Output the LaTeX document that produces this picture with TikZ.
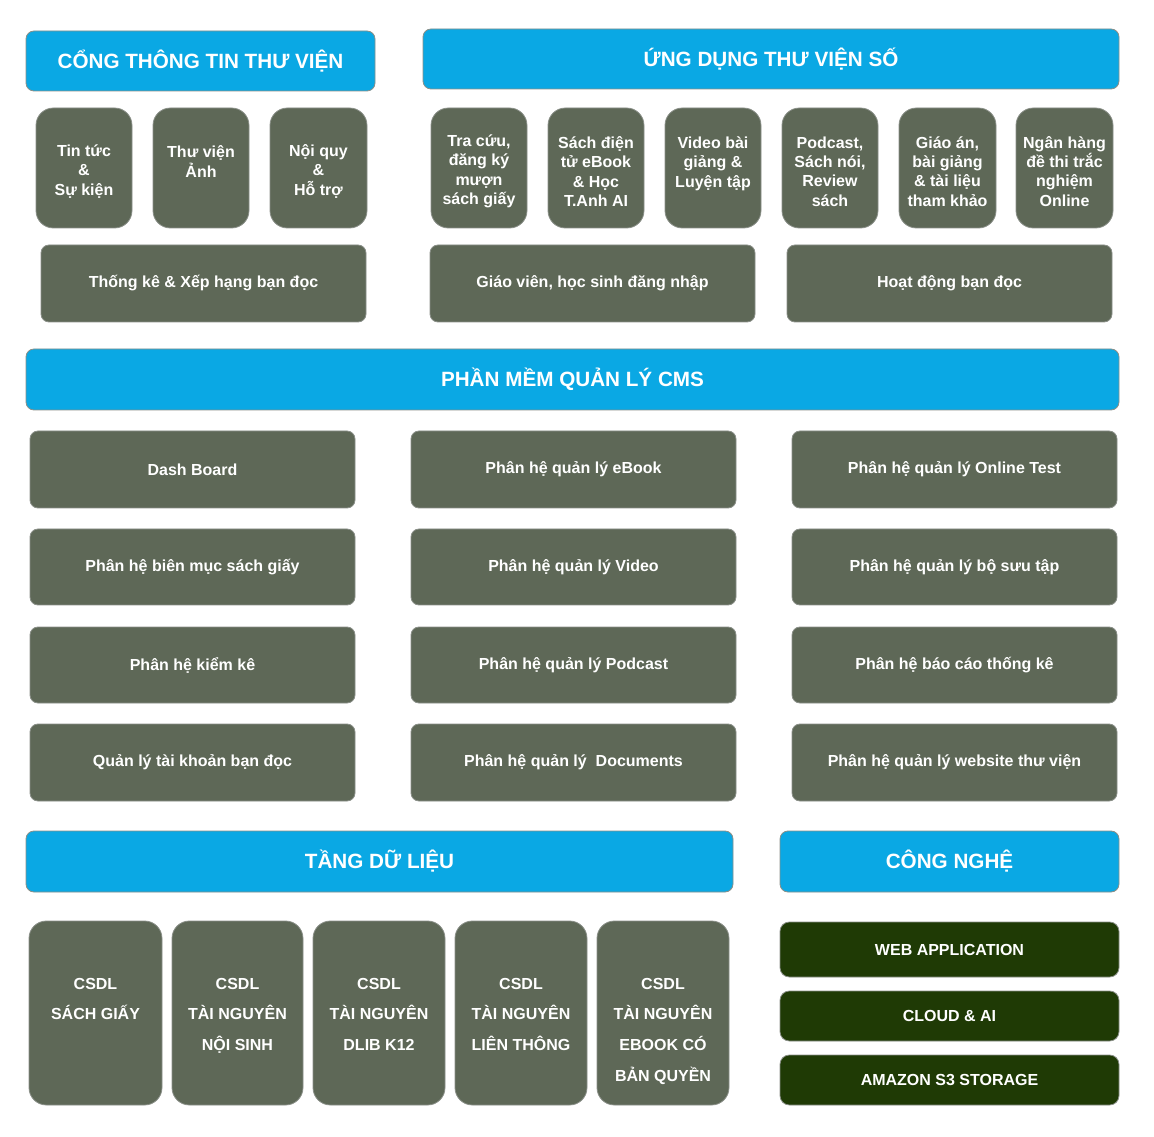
\documentclass[tikz,border=0pt]{standalone}
\usepackage{fontspec}
\setmainfont{Liberation Sans}
\definecolor{hblue}{HTML}{0AA8E4}
\definecolor{gg}{HTML}{5E6857}
\definecolor{dg}{HTML}{1F3A05}
\definecolor{edge}{HTML}{8A8F88}
\newcommand\bx[7]{\node[#6, minimum width={(#4-#2)*0.75pt}, minimum height={(#5-#3)*0.75pt}] (#1) at ({(#2+#4)/2},{(#3+#5)/2}) {#7};}
\newcommand\tpad{\rule{0pt}{14pt}}
\begin{document}
\begin{tikzpicture}[x=0.75pt,y=-0.75pt,
  base/.style={inner sep=0pt, outer sep=0pt, draw=edge, line width=0.6pt, text=white, align=center},
  hdr/.style={base, fill=hblue, rounded corners=6pt, font=\fontsize{15.5}{18}\selectfont\bfseries},
  sbox/.style={base, fill=gg, rounded corners=13pt, font=\fontsize{12}{14.6}\selectfont\bfseries},
  wbox/.style={base, fill=gg, rounded corners=6pt, font=\fontsize{12}{14.6}\selectfont\bfseries},
  cbox/.style={base, fill=gg, rounded corners=13pt},
  ctext/.style={inner sep=0pt, text=white, align=center, anchor=north, font=\fontsize{12}{22.9}\selectfont\bfseries},
  tbox/.style={base, fill=dg, rounded corners=7pt, font=\fontsize{12}{14.6}\selectfont\bfseries}]
\useasboundingbox (0,0) rectangle (1154,1137);
% headers
\bx{h1}{26}{31}{375}{91}{hdr}{CỔNG THÔNG TIN THƯ VIỆN}
\bx{h2}{423}{29}{1119}{89}{hdr}{ỨNG DỤNG THƯ VIỆN SỐ}
% portal boxes
\bx{p1}{36}{108}{132}{228}{sbox}{\tpad Tin tức\\\&\\Sự kiện}
\bx{p2}{153}{108}{249}{228}{sbox}{\tpad Thư viện\\Ảnh\\~}
\bx{p3}{270}{108}{367}{228}{sbox}{\tpad Nội quy\\\&\\Hỗ trợ}
% app boxes
\bx{a1}{431}{108}{527}{228}{sbox}{\tpad Tra cứu,\\đăng ký\\mượn\\sách giấy}
\bx{a2}{548}{108}{644}{228}{sbox}{\tpad Sách điện\\tử eBook\\\& Học\\T.Anh AI}
\bx{a3}{665}{108}{761}{228}{sbox}{\tpad Video bài\\giảng \&\\Luyện tập\\~}
\bx{a4}{782}{108}{878}{228}{sbox}{\tpad Podcast,\\Sách nói,\\Review\\sách}
\bx{a5}{899}{108}{996}{228}{sbox}{\tpad Giáo án,\\bài giảng\\\& tài liệu\\tham khảo}
\bx{a6}{1016}{108}{1113}{228}{sbox}{\tpad Ngân hàng\\đề thi trắc\\nghiệm\\Online}
% row 2
\bx{r1}{41}{245}{366}{322}{wbox}{Thống kê \& Xếp hạng bạn đọc}
\bx{r2}{430}{245}{755}{322}{wbox}{Giáo viên, học sinh đăng nhập}
\bx{r3}{787}{245}{1112}{322}{wbox}{Hoạt động bạn đọc}
% CMS
\bx{cms}{26}{349}{1119}{410}{hdr}{PHẦN MỀM QUẢN LÝ CMS}
\bx{m11}{30}{431}{355}{508}{wbox}{Dash Board}
\bx{m12}{411}{431}{736}{508}{wbox}{Phân hệ quản lý eBook}
\bx{m13}{792}{431}{1117}{508}{wbox}{Phân hệ quản lý Online Test}
\bx{m21}{30}{529}{355}{605}{wbox}{Phân hệ biên mục sách giấy}
\bx{m22}{411}{529}{736}{605}{wbox}{Phân hệ quản lý Video}
\bx{m23}{792}{529}{1117}{605}{wbox}{Phân hệ quản lý bộ sưu tập}
\bx{m31}{30}{627}{355}{703}{wbox}{Phân hệ kiểm kê}
\bx{m32}{411}{627}{736}{703}{wbox}{Phân hệ quản lý Podcast}
\bx{m33}{792}{627}{1117}{703}{wbox}{Phân hệ báo cáo thống kê}
\bx{m41}{30}{724}{355}{801}{wbox}{Quản lý tài khoản bạn đọc}
\bx{m42}{411}{724}{736}{801}{wbox}{Phân hệ quản lý~ Documents}
\bx{m43}{792}{724}{1117}{801}{wbox}{Phân hệ quản lý website thư viện}
% data layer
\bx{dh}{26}{831}{733}{892}{hdr}{TẦNG DỮ LIỆU}
\bx{th}{780}{831}{1119}{892}{hdr}{CÔNG NGHỆ}
\bx{d1}{29}{921}{162}{1105}{cbox}{}
\bx{d2}{172}{921}{303}{1105}{cbox}{}
\bx{d3}{313}{921}{445}{1105}{cbox}{}
\bx{d4}{455}{921}{587}{1105}{cbox}{}
\bx{d5}{597}{921}{729}{1105}{cbox}{}
\node[ctext] (d1t) at (d1.center |- 0,978) {CSDL\\SÁCH GIẤY};
\node[ctext] (d2t) at (d2.center |- 0,978) {CSDL\\TÀI NGUYÊN\\NỘI SINH};
\node[ctext] (d3t) at (d3.center |- 0,978) {CSDL\\TÀI NGUYÊN\\DLIB K12};
\node[ctext] (d4t) at (d4.center |- 0,978) {CSDL\\TÀI NGUYÊN\\LIÊN THÔNG};
\node[ctext] (d5t) at (d5.center |- 0,978) {CSDL\\TÀI NGUYÊN\\EBOOK CÓ\\BẢN QUYỀN};
% tech
\bx{t1}{780}{922}{1119}{977}{tbox}{WEB APPLICATION}
\bx{t2}{780}{991}{1119}{1041}{tbox}{CLOUD \& AI}
\bx{t3}{780}{1055}{1119}{1105}{tbox}{AMAZON S3 STORAGE}
\end{tikzpicture}
\end{document}
